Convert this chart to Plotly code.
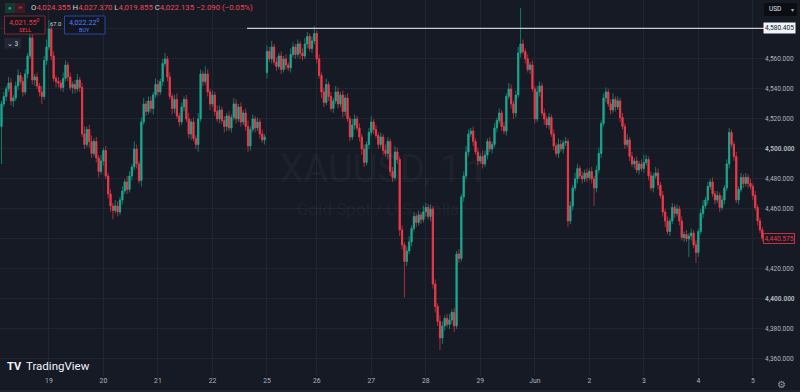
import plotly.graph_objects as go

# ---------------- data ----------------
closes = [
    4530, 4535, 4540, 4544, 4532, 4534, 4542, 4549, 4545, 4538,
    4550, 4562, 4574, 4546, 4548, 4542, 4538, 4535, 4559, 4568,
    4580, 4562, 4547, 4545, 4544, 4541, 4547, 4556, 4548, 4541,
    4543, 4540, 4546, 4541, 4510, 4503, 4513, 4505, 4497, 4505,
    4494, 4485, 4492, 4499, 4482, 4470, 4462, 4459, 4462, 4458,
    4466, 4472, 4478, 4473, 4482, 4488, 4500, 4490, 4479, 4518,
    4530, 4525, 4532, 4527, 4536, 4543, 4538, 4545, 4557, 4560,
    4548, 4535, 4527, 4533, 4522, 4518, 4528, 4533, 4520, 4510,
    4518, 4507, 4503, 4520, 4550, 4545, 4550, 4538, 4530, 4536,
    4525, 4520, 4526, 4519, 4515, 4522, 4514, 4521, 4530, 4520,
    4528, 4518, 4524, 4515, 4502, 4513, 4520, 4514, 4518, 4510,
    4506, 4508, 4565, 4560, 4568, 4558, 4555, 4562, 4553, 4560,
    4556, 4554, 4563, 4568, 4563, 4570, 4564, 4562, 4570, 4575,
    4567, 4572, 4577, 4560, 4549, 4538, 4531, 4543, 4535, 4527,
    4532, 4538, 4530, 4536, 4525, 4534, 4520, 4508, 4516, 4520,
    4514, 4508, 4500, 4491, 4503, 4511, 4518, 4513, 4509, 4503,
    4508, 4499, 4497, 4505, 4485, 4481, 4498, 4493, 4446, 4436,
    4425, 4432, 4438, 4447, 4455, 4451, 4456, 4453, 4458, 4461,
    4455, 4460, 4410, 4395, 4385, 4374, 4382, 4387, 4383, 4386,
    4391, 4382, 4430, 4427, 4468, 4482, 4498, 4510, 4512, 4505,
    4498, 4492, 4495, 4490, 4496, 4505, 4500, 4503, 4514, 4519,
    4524, 4515, 4512, 4535, 4540, 4530, 4524, 4536, 4564, 4570,
    4565, 4560, 4553, 4556, 4540, 4520, 4538, 4542, 4524, 4520,
    4516, 4521, 4510, 4502, 4497, 4503, 4500, 4504, 4505, 4452,
    4462, 4474, 4480, 4487, 4482, 4480, 4484, 4481, 4485, 4480,
    4474, 4486, 4497, 4517, 4534, 4538, 4530, 4526, 4533, 4528,
    4532, 4521, 4515, 4503, 4506, 4495, 4490, 4492, 4486, 4490,
    4487, 4491, 4493, 4482, 4474, 4482, 4484, 4476, 4469, 4458,
    4452, 4445, 4452, 4461, 4457, 4460, 4452, 4441, 4443, 4440,
    4442, 4444, 4436, 4431, 4445, 4457, 4462, 4466, 4475, 4478,
    4470, 4466, 4469, 4461, 4466, 4474, 4490, 4511, 4503, 4495,
    4466, 4473, 4481, 4477, 4481, 4477, 4475, 4469, 4461, 4452,
    4446, 4440.575,
]
# opens follow the previous close, except where the market gapped
open_overrides = {0: 4515, 112: 4551}

upper_wick = [
    2, 3, 2, 4, 3, 2, 3, 4, 2, 3, 3, 2, 4, 3, 2, 3, 2, 4, 3, 5,
    6, 2, 3, 2, 3, 2, 4, 3, 2, 3, 2, 3, 4, 2, 3, 5, 2, 3, 4, 2,
    3, 2, 4, 2, 3, 2, 3, 2, 4, 3, 2, 3, 2, 4, 3, 2, 5, 3, 2, 3,
    4, 2, 3, 3, 2, 4, 3, 2, 3, 4, 2, 3, 2, 3, 4, 2, 3, 2, 3, 4,
    2, 3, 2, 4, 3, 2, 5, 3, 2, 3, 2, 4, 3, 2, 3, 2, 3, 2, 4, 3,
    2, 3, 2, 3, 4, 2, 3, 2, 3, 2, 3, 2, 4, 3, 4, 2, 3, 2, 3, 2,
    3, 2, 4, 3, 2, 3, 2, 3, 4, 3, 2, 3, 5, 2, 3, 2, 3, 4, 2, 3,
    2, 4, 3, 2, 3, 2, 3, 2, 4, 3, 2, 3, 2, 3, 2, 3, 4, 2, 3, 2,
    3, 2, 4, 3, 2, 3, 4, 3, 2, 3, 2, 3, 4, 2, 3, 2, 3, 2, 4, 3,
    2, 3, 2, 3, 2, 4, 3, 2, 3, 4, 2, 3, 2, 3, 2, 3, 4, 3, 2, 3,
    2, 3, 2, 4, 3, 2, 3, 2, 3, 2, 3, 2, 3, 2, 4, 3, 2, 3, 4, 24,
    3, 2, 3, 2, 3, 2, 4, 3, 2, 3, 2, 3, 2, 3, 2, 4, 3, 2, 3, 2,
    3, 2, 4, 3, 2, 3, 2, 3, 2, 3, 2, 3, 4, 2, 3, 3, 2, 3, 4, 2,
    3, 2, 3, 2, 4, 2, 3, 2, 3, 2, 3, 5, 3, 2, 3, 2, 4, 3, 2, 3,
    2, 3, 2, 3, 2, 3, 2, 3, 2, 3, 2, 3, 2, 3, 2, 3, 4, 2, 3, 2,
    3, 2, 3, 2, 3, 2, 3, 3, 2, 2, 3, 2, 3, 2, 3, 2, 3, 2, 3, 2,
    2, 2,
]
lower_wick = [
    25, 2, 3, 2, 3, 4, 2, 3, 2, 3, 2, 3, 2, 3, 4, 2, 3, 5, 2, 3,
    2, 3, 2, 4, 3, 2, 3, 2, 3, 2, 4, 3, 2, 3, 2, 3, 2, 4, 3, 2,
    3, 4, 2, 3, 2, 3, 4, 6, 2, 3, 2, 3, 2, 3, 2, 3, 2, 3, 2, 4,
    2, 3, 2, 3, 4, 2, 3, 2, 3, 2, 3, 2, 4, 3, 2, 3, 2, 3, 2, 3,
    4, 2, 3, 5, 2, 3, 2, 3, 4, 2, 3, 2, 3, 2, 4, 3, 2, 3, 2, 3,
    2, 3, 2, 3, 4, 3, 2, 3, 2, 3, 2, 3, 4, 2, 3, 2, 3, 2, 3, 2,
    3, 2, 3, 2, 3, 2, 4, 3, 2, 3, 2, 3, 2, 3, 2, 4, 3, 2, 3, 2,
    3, 2, 3, 2, 4, 3, 2, 3, 2, 3, 2, 3, 4, 3, 2, 3, 2, 3, 2, 3,
    2, 3, 2, 4, 3, 3, 2, 3, 4, 3, 24, 3, 2, 3, 2, 3, 2, 3, 2, 3,
    2, 3, 3, 4, 3, 8, 4, 3, 2, 3, 3, 4, 2, 3, 2, 3, 2, 3, 2, 3,
    2, 3, 2, 3, 2, 3, 2, 3, 2, 3, 2, 3, 2, 3, 2, 3, 4, 3, 2, 3,
    2, 3, 2, 3, 2, 3, 2, 3, 2, 4, 2, 3, 2, 3, 2, 3, 2, 3, 2, 4,
    2, 3, 2, 3, 2, 3, 2, 3, 2, 3, 12, 3, 2, 3, 2, 3, 2, 3, 2, 3,
    2, 3, 2, 3, 2, 3, 2, 3, 2, 3, 2, 3, 2, 3, 2, 3, 2, 3, 2, 3,
    4, 2, 3, 2, 3, 2, 3, 2, 3, 2, 12, 3, 2, 7, 3, 2, 3, 2, 3, 2,
    2, 3, 2, 3, 2, 3, 2, 3, 2, 3, 2, 3, 2, 3, 2, 3, 2, 3, 2, 3,
    2, 2,
]

day_tick_index = [20, 43, 66, 89, 112, 133, 156, 179, 202, 225, 248, 271, 294, 317]
day_tick_labels = ["19", "20", "21", "22", "25", "26", "27", "28", "29", "Jun",
                   "2", "3", "4", "5"]
price_ticks = [4360, 4380, 4400, 4420, 4440, 4460, 4480, 4500, 4520, 4540, 4560, 4580]

hline_price = 4580.405
hline_start_index = 103.6
header_open, header_high, header_low, header_close = "4,024.355", "4,027.370", "4,019.855", "4,022.135"
header_change = "−2.090 (−0.05%)"
sell_price, buy_price, spread = "4,021.55", "4,022.22", "67.0"
watermark_title, watermark_sub = "XAUUSD, 1h", "Gold Spot / U.S. Dollar"

# ---------------- derived OHLC ----------------
idx = list(range(len(closes)))
opens = [open_overrides.get(i, closes[i - 1] if i else closes[i]) for i in idx]
highs = [max(o, c) + u for o, c, u in zip(opens, closes, upper_wick)]
lows = [min(o, c) - d for o, c, d in zip(opens, closes, lower_wick)]
body_hi = [max(o, c) for o, c in zip(opens, closes)]
body_lo = [min(o, c) for o, c in zip(opens, closes)]

# ---------------- style ----------------
BG = "#161a25"
GRID = "#212531"
UP, DOWN = "#1fa88f", "#f0394a"
UP_WICK, DOWN_WICK = "#117a69", "#a52f3c"
TXT = "#b2b5be"
FONT = "Roboto"
W, H = 800, 392
ML, MR, MT, MB = 0, 36, 0, 17
PW, PH = W - ML - MR, H - MT - MB
Y_TOP, Y_BOT = 4599.3, 4349.3


def fx(px):
    return (px - ML) / PW


def fy(py):
    return 1 - (py - MT) / PH


def py_of(price):
    return (Y_TOP - price) * PH / (Y_TOP - Y_BOT)


fig = go.Figure()

# watermark (drawn first so the candles sit on top)
fig.add_trace(go.Scatter(
    x=[160.1], y=[4484.0], mode="text", text=[watermark_title],
    textfont=dict(size=38, color="rgba(255,255,255,0.055)", family=FONT),
    hoverinfo="skip", showlegend=False,
))
fig.add_trace(go.Scatter(
    x=[160.1], y=[4458.6], mode="text", text=[watermark_sub],
    textfont=dict(size=17, color="rgba(255,255,255,0.055)", family=FONT),
    hoverinfo="skip", showlegend=False,
))

# wicks (full OHLC, dimmer)
fig.add_trace(go.Candlestick(
    x=idx, open=opens, high=highs, low=lows, close=closes,
    increasing=dict(line=dict(color=UP_WICK, width=1), fillcolor=UP_WICK),
    decreasing=dict(line=dict(color=DOWN_WICK, width=1), fillcolor=DOWN_WICK),
    whiskerwidth=0, hoverinfo="skip", showlegend=False,
))
# bodies (bright)
fig.add_trace(go.Candlestick(
    x=idx, open=opens, high=body_hi, low=body_lo, close=closes,
    increasing=dict(line=dict(color=UP, width=0.7), fillcolor=UP),
    decreasing=dict(line=dict(color=DOWN, width=0.7), fillcolor=DOWN),
    whiskerwidth=0, hoverinfo="skip", showlegend=False,
))

shapes = [
    # horizontal ray drawing
    dict(type="line", xref="x", yref="y", x0=hline_start_index, x1=idx[-1] + 1,
         y0=hline_price, y1=hline_price, line=dict(color="#c9ccd4", width=1.2)),
    # symbol status pill
    dict(type="rect", xref="paper", yref="paper", x0=fx(5), x1=fx(15), y0=fy(13), y1=fy(3),
         fillcolor="#163831", line=dict(width=0)),
    dict(type="rect", xref="paper", yref="paper", x0=fx(15), x1=fx(25), y0=fy(13), y1=fy(3),
         fillcolor="#3b1a25", line=dict(width=0)),
    # sell / buy boxes
    dict(type="rect", xref="paper", yref="paper", x0=fx(4.5), x1=fx(45), y0=fy(34), y1=fy(16),
         fillcolor="#13161f", line=dict(color="#7e2933", width=1)),
    dict(type="rect", xref="paper", yref="paper", x0=fx(64.5), x1=fx(105), y0=fy(34), y1=fy(16),
         fillcolor="#13161f", line=dict(color="#2447a6", width=1)),
    # collapse button
    dict(type="rect", xref="paper", yref="paper", x0=fx(4.5), x1=fx(21), y0=fy(48.5), y1=fy(38),
         fillcolor="#232733", line=dict(width=0)),
    # currency box
    dict(type="rect", xref="paper", yref="paper", x0=fx(764), x1=fx(797), y0=fy(16), y1=fy(3),
         fillcolor="#0b0d12", line=dict(width=0)),
    # bottom border
    dict(type="line", xref="paper", yref="paper", x0=fx(0), x1=fx(800), y0=fy(391), y1=fy(391),
         line=dict(color="#2a2e39", width=1)),
]

ann = []


def add(px, py, text, size, color, xanchor="left", **kw):
    ann.append(dict(x=fx(px), y=fy(py), xref="paper", yref="paper", text=text,
                    showarrow=False, xanchor=xanchor, yanchor="middle",
                    font=dict(size=size, color=color, family=FONT), **kw))


L = "#d1d4dc"
R = "#ef4655"
header = (f"<span style='color:{L}'>O</span>{header_open} "
          f"<span style='color:{L}'>H</span>{header_high} "
          f"<span style='color:{L}'>L</span>{header_low} "
          f"<span style='color:{L}'>C</span>{header_close} {header_change}")
add(28.5, 8, header, 7.8, R)
add(10, 8, "●", 6, "#22ab94", xanchor="center")
add(20, 8, "≡", 7.5, "#f23645", xanchor="center")
add(24.5, 21.5, f"{sell_price}<sup>0</sup>", 7.2, "#f23645", xanchor="center")
add(24.5, 29.5, "SELL", 5.5, "#f23645", xanchor="center")
add(56, 24, spread, 5.8, L, xanchor="center")
add(84.5, 21.5, f"{buy_price}<sup>0</sup>", 7.2, "#4c7dff", xanchor="center")
add(84.5, 29.5, "BUY", 5.5, "#4c7dff", xanchor="center")
add(12.5, 43.5, "⌄ 3", 6.5, L, xanchor="center")
add(767, 9.5, "USD", 6.5, "#e0e3eb")
add(793, 9.5, "▾", 6, "#b2b5be", xanchor="center")
add(762.5, py_of(hline_price), f"{hline_price:,.3f}", 6.6, "#131722",
    bgcolor="#f0f3fa", borderpad=1)
add(762.5, py_of(closes[-1]), f"{closes[-1]:,.3f}", 6.6, "#f23645",
    bgcolor=BG, bordercolor="#c9303d", borderwidth=1, borderpad=0.5)
add(5, 366, "<b>TV</b>", 11, "#f0f3fa")
add(24, 366, "TradingView", 11.5, "#f0f3fa")
add(781.5, 384, "⚙", 9.5, "#9598a1", xanchor="center")

price_text = [f"<b>{v:,.3f}</b>" if v % 100 == 0 else f"{v:,.3f}" for v in price_ticks]

fig.update_layout(
    width=W, height=H,
    margin=dict(l=ML, r=MR, t=MT, b=MB, pad=0),
    paper_bgcolor=BG, plot_bgcolor=BG,
    showlegend=False,
    font=dict(family=FONT, color=TXT, size=6.5),
    shapes=shapes, annotations=ann,
    xaxis=dict(range=[-0.63, 321.7], rangeslider=dict(visible=False),
               tickmode="array", tickvals=day_tick_index, ticktext=day_tick_labels,
               showgrid=True, gridcolor=GRID, gridwidth=1, zeroline=False,
               showline=False, ticks="", ticklen=0,
               tickfont=dict(size=6.8, color=TXT, family=FONT)),
    yaxis=dict(range=[Y_BOT, Y_TOP], side="right",
               tickmode="array", tickvals=price_ticks, ticktext=price_text,
               showgrid=True, gridcolor=GRID, gridwidth=1, zeroline=False,
               showline=False, ticks="", ticklen=0,
               tickfont=dict(size=6.5, color=TXT, family=FONT)),
)

fig.write_html("out.html")
